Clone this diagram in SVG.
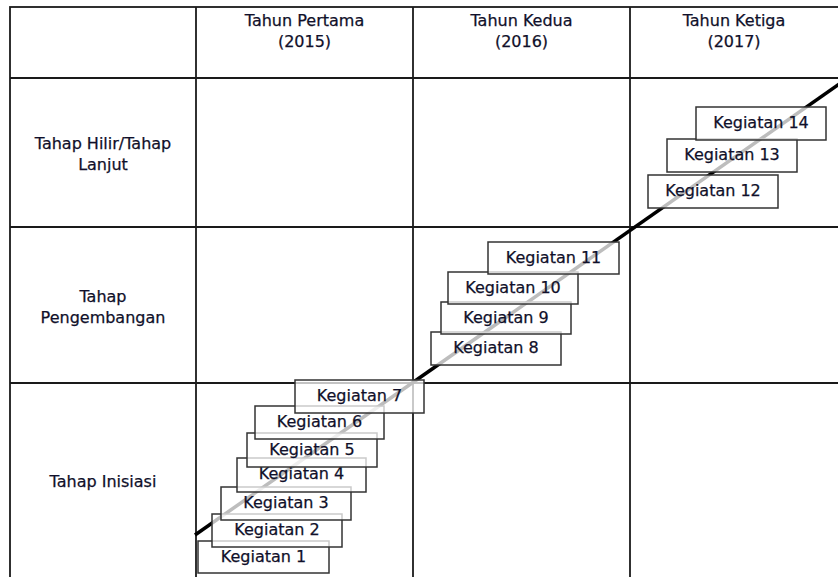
<svg xmlns="http://www.w3.org/2000/svg" width="838" height="577" viewBox="0 0 838 577">
<style>
.grid{fill:none;stroke:#1a1a1a;stroke-width:1.8}
.t{font-family:"DejaVu Sans",Verdana,sans-serif;font-size:16px;fill:#10102a;stroke:#10102a;stroke-width:0.25;text-anchor:middle}
.box{fill:#fff;fill-opacity:0.74;stroke:#333;stroke-width:1.5}
.diag{stroke:#000;stroke-width:3.5;fill:none}
</style>
<rect width="838" height="577" fill="#fff"/>
<g id="table">
<rect class="grid" x="10" y="7" width="840" height="590"/>
<line class="grid" x1="196" y1="7" x2="196" y2="577"/>
<line class="grid" x1="413" y1="7" x2="413" y2="577"/>
<line class="grid" x1="630" y1="7" x2="630" y2="577"/>
<line class="grid" x1="10" y1="78" x2="838" y2="78"/>
<line class="grid" x1="10" y1="227" x2="838" y2="227"/>
<line class="grid" x1="10" y1="383" x2="838" y2="383"/>
</g>
<g id="headers">
<text class="t" x="304.5" y="26">Tahun Pertama</text>
<text class="t" x="304.5" y="47">(2015)</text>
<text class="t" x="521.5" y="26">Tahun Kedua</text>
<text class="t" x="521.5" y="47">(2016)</text>
<text class="t" x="734" y="26">Tahun Ketiga</text>
<text class="t" x="734" y="47">(2017)</text>
<text class="t" x="103" y="149">Tahap Hilir/Tahap</text>
<text class="t" x="103" y="170">Lanjut</text>
<text class="t" x="103" y="302">Tahap</text>
<text class="t" x="103" y="323">Pengembangan</text>
<text class="t" x="103" y="487">Tahap Inisiasi</text>
</g>
<g id="connectors">
<line class="diag" x1="195" y1="535" x2="845" y2="80"/>
</g>
<g id="k1"><rect class="box" x="198" y="541" width="131" height="32"/><text class="t" x="263.5" y="562">Kegiatan 1</text></g>
<g id="k2"><rect class="box" x="212" y="514" width="130" height="33"/><text class="t" x="277" y="535">Kegiatan 2</text></g>
<g id="k3"><rect class="box" x="221" y="487" width="130" height="33"/><text class="t" x="286" y="508">Kegiatan 3</text></g>
<g id="k4"><rect class="box" x="237" y="458" width="129" height="34"/><text class="t" x="301.5" y="479">Kegiatan 4</text></g>
<g id="k5"><rect class="box" x="247" y="433" width="130" height="34"/><text class="t" x="312" y="455">Kegiatan 5</text></g>
<g id="k6"><rect class="box" x="255" y="406" width="129" height="33"/><text class="t" x="319.5" y="427">Kegiatan 6</text></g>
<g id="k7"><rect class="box" x="295" y="380" width="129" height="33"/><text class="t" x="359.5" y="401">Kegiatan 7</text></g>
<g id="k8"><rect class="box" x="431" y="332" width="130" height="33"/><text class="t" x="496" y="353">Kegiatan 8</text></g>
<g id="k9"><rect class="box" x="441" y="302" width="130" height="32"/><text class="t" x="506" y="323">Kegiatan 9</text></g>
<g id="k10"><rect class="box" x="448" y="272" width="130" height="32"/><text class="t" x="513" y="293">Kegiatan 10</text></g>
<g id="k11"><rect class="box" x="488" y="242" width="131" height="32"/><text class="t" x="553.5" y="263">Kegiatan 11</text></g>
<g id="k12"><rect class="box" x="648" y="175" width="130" height="33"/><text class="t" x="713" y="196">Kegiatan 12</text></g>
<g id="k13"><rect class="box" x="667" y="139" width="130" height="33"/><text class="t" x="732" y="160">Kegiatan 13</text></g>
<g id="k14"><rect class="box" x="696" y="107" width="130" height="33"/><text class="t" x="761" y="128">Kegiatan 14</text></g>
</svg>
